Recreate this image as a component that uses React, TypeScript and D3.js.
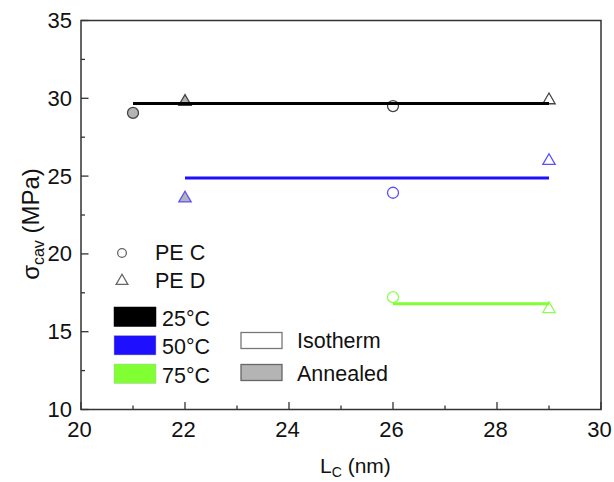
import React from "react";
import * as d3 from "d3";

const W = 614;
const H = 482;

// x: lamellar thickness Lc (nm), y: cavitation stress (MPa)
const xTicksMajor = [20, 22, 24, 26, 28, 30];
const xTicksMinor = [21, 23, 25, 27, 29];
const yTicksMajor = [10, 15, 20, 25, 30, 35];
const yTicksMinor = [12.5, 17.5, 22.5, 27.5, 32.5];

const temperatures = ["25°C", "50°C", "75°C"];
const tempColors = ["#000000", "#1e10ff", "#80ff33"];
const markerColors = ["#444444", "#5a50ff", "#8cff50"];

// Points: [temperature index, sample (C=circle, D=triangle), annealed?, Lc, sigma]
const ptTemp = [0, 0, 0, 0, 1, 1, 1, 2, 2];
const ptSample = ["C", "D", "C", "D", "D", "C", "D", "C", "D"];
const ptAnnealed = [true, true, false, false, true, false, false, false, false];
const ptLc = [21, 22, 26, 29, 22, 26, 29, 26, 29];
const ptSigma = [29.06, 29.78, 29.5, 29.88, 23.57, 23.93, 25.98, 17.22, 16.46];

// Mean lines per temperature
const lineStart = [21, 22, 26];
const lineEnd = [29, 29, 29];
const lineLevel = [29.67, 24.87, 16.8];

export default function App() {
  const x = d3.scaleLinear().domain([20, 30]).range([81, 601]);
  const y = d3.scaleLinear().domain([10, 35]).range([409.5, 20.5]);
  const circle = d3.symbol(d3.symbolCircle, 95)();
  const tri = d3.symbol(d3.symbolTriangle, 66)();
  const legCircle = d3.symbol(d3.symbolCircle, 60)();
  const legTri = d3.symbol(d3.symbolTriangle, 60)();
  const font = "'Liberation Sans', Arial, Helvetica, sans-serif";
  const x0 = x.range()[0], x1 = x.range()[1];
  const yb = y.range()[0], yt = y.range()[1];

  return (
    <svg width={W} height={H} style={{ position: "absolute", left: 0, top: 0, background: "#fff" }} fontFamily={font}>
      {/* frame */}
      <rect x={x0} y={yt} width={x1 - x0} height={yb - yt} fill="none" stroke="#333" strokeWidth={1.5} />
      {/* x ticks */}
      {xTicksMajor.map((t) => (
        <g key={"xm" + t}>
          <line x1={x(t)} x2={x(t)} y1={yb} y2={yb - 7.5} stroke="#333" strokeWidth={1.3} />
          <text x={x(t) - 1.5} y={437} textAnchor="middle" fontSize={22} fill="#111">{t}</text>
        </g>
      ))}
      {xTicksMinor.map((t) => (
        <line key={"xn" + t} x1={x(t)} x2={x(t)} y1={yb} y2={yb - 4} stroke="#333" strokeWidth={1.3} />
      ))}
      {/* y ticks */}
      {yTicksMajor.map((t) => (
        <g key={"ym" + t}>
          <line x1={x0} x2={x0 + 7.5} y1={y(t)} y2={y(t)} stroke="#333" strokeWidth={1.3} />
          <text x={72} y={y(t) + 7.5} textAnchor="end" fontSize={22} fill="#111">{t}</text>
        </g>
      ))}
      {yTicksMinor.map((t) => (
        <line key={"yn" + t} x1={x0} x2={x0 + 4} y1={y(t)} y2={y(t)} stroke="#333" strokeWidth={1.3} />
      ))}
      {/* axis titles */}
      <text x={320} y={473} fontSize={21} fill="#111">
        L<tspan fontSize={14} dy={4}>C</tspan>
        <tspan dy={-4}> (nm)</tspan>
      </text>
      <text transform={`translate(39,224) rotate(-90)`} textAnchor="middle" fontSize={24} fill="#111">
        σ<tspan fontSize={16} dy={5}>cav</tspan>
        <tspan dy={-5}> (MPa)</tspan>
      </text>

      {/* markers */}
      {ptLc.map((lc, i) => (
        <path
          key={"p" + i}
          d={ptSample[i] === "C" ? circle : tri}
          transform={`translate(${x(lc)},${y(ptSigma[i])})`}
          fill={ptAnnealed[i] ? "#b4b4b4" : "none"}
          stroke={markerColors[ptTemp[i]]}
          strokeWidth={1.3}
        />
      ))}
      {/* mean lines */}
      {lineLevel.map((v, i) => (
        <line
          key={"l" + i}
          x1={x(lineStart[i])}
          x2={x(lineEnd[i])}
          y1={y(v)}
          y2={y(v)}
          stroke={tempColors[i]}
          strokeWidth={3}
        />
      ))}

      {/* legend: samples */}
      <path d={legCircle} transform="translate(122,253)" fill="none" stroke="#666" strokeWidth={1.3} />
      <text x={155} y={260} fontSize={21.5} fill="#111">PE C</text>
      <path d={legTri} transform="translate(122,281)" fill="none" stroke="#666" strokeWidth={1.3} />
      <text x={155} y={288} fontSize={21.5} fill="#111">PE D</text>

      {/* legend: temperatures */}
      {temperatures.map((t, i) => (
        <g key={"t" + i}>
          <rect x={114} y={307 + i * 28.5} width={42} height={19.5} fill={tempColors[i]} stroke={i === 0 ? "#000" : "#bbb"} strokeWidth={0.5} />
          <text x={162} y={325.5 + i * 28.5} fontSize={21.5} fill="#111">{t}</text>
        </g>
      ))}

      {/* legend: treatment */}
      <rect x={241} y={332.5} width={41} height={16} fill="#fff" stroke="#777" strokeWidth={1.3} />
      <text x={297} y={347.5} fontSize={21.5} fill="#111">Isotherm</text>
      <rect x={241} y={364.5} width={41} height={16} fill="#b4b4b4" stroke="#666" strokeWidth={1.3} />
      <text x={297} y={380.5} fontSize={21.5} fill="#111">Annealed</text>
    </svg>
  );
}
